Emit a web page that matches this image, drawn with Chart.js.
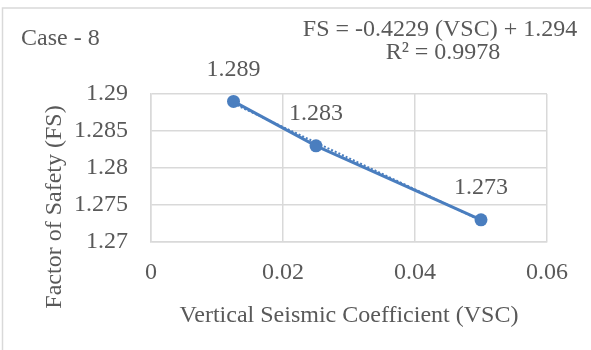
<!DOCTYPE html>
<html>
<head>
<meta charset="utf-8">
<script src="https://cdn.jsdelivr.net/npm/chart.js@4"></script>
<style>
  html, body { margin: 0; padding: 0; background: #fff; }
</style>
</head>
<body>
<canvas id="fsChart" width="591" height="350"></canvas>
<script>
const vscValues = [0.0125, 0.025, 0.05];
const fsValues = [1.289, 1.283, 1.273];
const trendVsc = [0.0125, 0.05];
const trendFs = [1.2887, 1.2729];
const caseLabel = "Case - 8";
const equationText = "FS = -0.4229 (VSC) + 1.294";
const r2Text = "R\u00b2 = 0.9978";
const xTitle = "Vertical Seismic Coefficient (VSC)";
const yTitle = "Factor of Safety (FS)";

const textColor = "#595959";
const gridColor = "#d9d9d9";
const lineBlue = "#4a7ebf";
const serif = "'Liberation Serif', 'Times New Roman', serif";
const fontSize = 24;

const tidy = (v) => String(Number(v.toFixed(4)));

const annotations = {
  id: "annotations",
  beforeDraw(chart) {
    const ctx = chart.ctx;
    ctx.save();
    ctx.strokeStyle = gridColor;
    ctx.lineWidth = 1.5;
    ctx.beginPath();
    ctx.moveTo(2.5, 350);
    ctx.lineTo(2.5, 8);
    ctx.lineTo(591, 8);
    ctx.stroke();
    ctx.restore();
  },
  afterDatasetsDraw(chart) {
    const ctx = chart.ctx;
    ctx.save();
    ctx.fillStyle = textColor;
    ctx.font = fontSize + "px " + serif;
    ctx.textAlign = "center";
    ctx.textBaseline = "middle";
    // value labels above each point
    chart.getDatasetMeta(1).data.forEach((pt, i) => {
      ctx.fillText(String(fsValues[i]), pt.x, pt.y - 32);
    });
    ctx.textAlign = "left";
    ctx.fillText(caseLabel, 21, 39);
    ctx.textAlign = "center";
    ctx.fillText(equationText, 440, 30);
    ctx.fillText(r2Text, 443, 53);
    ctx.translate(55, 207);
    ctx.rotate(-Math.PI / 2);
    ctx.fillText(yTitle, 0, 0);
    ctx.restore();
  },
};

const fsData = {
  datasets: [
    {
      label: "Linear trend",
      data: trendVsc.map((x, i) => ({ x: x, y: trendFs[i] })),
      showLine: true,
      borderColor: lineBlue,
      borderWidth: 2,
      borderDash: [2, 2],
      pointRadius: 0,
    },
    {
      label: "FS",
      data: vscValues.map((x, i) => ({ x: x, y: fsValues[i] })),
      showLine: true,
      borderColor: lineBlue,
      backgroundColor: lineBlue,
      borderWidth: 3,
      pointRadius: 6.5,
      pointBorderWidth: 0,
    },
  ],
};

const fsConfig = {
  type: "scatter",
  data: fsData,
  plugins: [annotations],
  options: {
    responsive: false,
    animation: false,
    layout: { padding: { top: 94, right: 44, bottom: 0, left: 0 } },
    plugins: {
      legend: { display: false },
      tooltip: { enabled: false },
    },
    scales: {
      x: {
        type: "linear",
        min: 0,
        max: 0.06,
        afterFit: (scale) => { scale.height = 108; },
        ticks: {
          stepSize: 0.02,
          padding: 16,
          color: textColor,
          font: { family: serif, size: fontSize },
          callback: tidy,
        },
        grid: { color: gridColor, lineWidth: 1.5, drawTicks: false },
        border: { color: gridColor, width: 1.5 },
        title: {
          display: true,
          text: xTitle,
          color: textColor,
          font: { family: serif, size: fontSize },
          padding: { top: 0, bottom: 20 },
        },
      },
      y: {
        min: 1.27,
        max: 1.29,
        afterFit: (scale) => { scale.width = 151; },
        ticks: {
          stepSize: 0.005,
          padding: 23,
          color: textColor,
          font: { family: serif, size: fontSize },
          callback: tidy,
        },
        grid: { color: gridColor, lineWidth: 1.5, drawTicks: false },
        border: { color: gridColor, width: 1.5 },
      },
    },
  },
};

const fsChart = new Chart(document.getElementById("fsChart"), fsConfig);
</script>
</body>
</html>
